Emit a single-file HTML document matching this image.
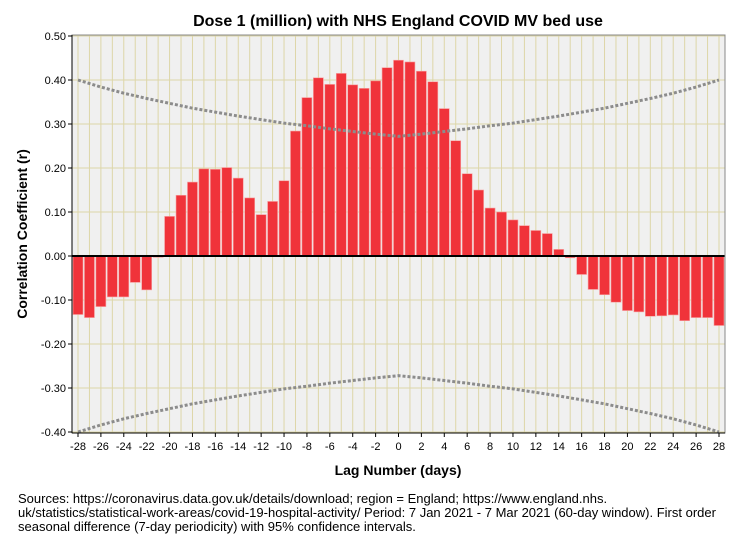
<!DOCTYPE html>
<html><head><meta charset="utf-8"><style>
body{margin:0;background:#fff;font-family:"Liberation Sans",sans-serif}
svg{display:block}
</style></head><body>
<svg id="chart" width="747" height="541" font-family="Liberation Sans, sans-serif">
<text x="398" y="26" text-anchor="middle" font-size="16" font-weight="bold">Dose 1 (million) with NHS England COVID MV bed use</text>
<rect x="72" y="35" width="653" height="398" fill="#f0f0f0"/>
<g id="grid"></g><g id="bars"></g><g id="ci"></g><g id="axes"></g>
<text x="398" y="475" text-anchor="middle" font-size="14" font-weight="bold">Lag Number (days)</text>
<text transform="translate(27,234) rotate(-90)" text-anchor="middle" font-size="14" font-weight="bold">Correlation Coefficient (r)</text>
<g font-size="13">
<text x="18" y="503">Sources: https://coronavirus.data.gov.uk/details/download; region = England; https://www.england.nhs.</text>
<text x="18" y="517">uk/statistics/statistical-work-areas/covid-19-hospital-activity/ Period: 7 Jan 2021 - 7 Mar 2021 (60-day window). First order</text>
<text x="18" y="531">seasonal difference (7-day periodicity) with 95% confidence intervals.</text>
</g>
</svg>
<script>
const lags=[];for(let k=-28;k<=28;k++)lags.push(k);
const values=[-0.133,-0.140,-0.115,-0.093,-0.093,-0.060,-0.077,-0.003,0.090,0.138,0.168,0.198,0.197,0.201,0.177,0.132,0.094,0.124,0.171,0.284,0.360,0.405,0.390,0.415,0.389,0.381,0.398,0.428,0.445,0.441,0.420,0.396,0.335,0.262,0.187,0.150,0.109,0.100,0.082,0.069,0.058,0.051,0.015,-0.004,-0.042,-0.076,-0.088,-0.105,-0.124,-0.127,-0.137,-0.136,-0.134,-0.147,-0.140,-0.140,-0.158];
const ciLags=[-28,-26,-24,-22,-20,-18,-16,-14,-12,-10,-8,-6,-4,-2,0,2,4,6,8,10,12,14,16,18,20,22,24,26,28];
const ciValues=[0.400,0.384,0.370,0.358,0.347,0.336,0.327,0.318,0.310,0.302,0.296,0.289,0.283,0.277,0.272,0.277,0.283,0.289,0.296,0.302,0.310,0.318,0.327,0.336,0.347,0.358,0.370,0.384,0.400];
const yTicks=[0.5,0.4,0.3,0.2,0.1,0,-0.1,-0.2,-0.3,-0.4];
const yTickLabels=["0.50","0.40","0.30","0.20","0.10","0.00","-0.10","-0.20","-0.30","-0.40"];
const xTicks=[-28,-26,-24,-22,-20,-18,-16,-14,-12,-10,-8,-6,-4,-2,0,2,4,6,8,10,12,14,16,18,20,22,24,26,28];
const NS="http://www.w3.org/2000/svg";
const X=k=>78+(k+28)*(719-78)/56;
const Y=v=>256-v*440;
function mk(p,t,a){const e=document.createElementNS(NS,t);for(const k in a)e.setAttribute(k,a[k]);document.getElementById(p).appendChild(e);return e;}
lags.forEach(k=>{const e=mk('grid','line',{x1:X(k),x2:X(k),y1:35,y2:433,stroke:'#ddd6a8','stroke-width':1});

});
yTicks.forEach(v=>{const e=mk('grid','line',{x1:72,x2:725,y1:Y(v),y2:Y(v),stroke:'#ddd6a8','stroke-width':1});

});
lags.forEach((k,i)=>{const v=values[i];const y0=Y(0),y1=Y(v);
const e=mk('bars','rect',{x:X(k)-5,y:Math.min(y0,y1),width:10,height:Math.max(1,Math.abs(y1-y0)),fill:'#f0333a',stroke:'#f7a0a0','stroke-width':0.6});

});
[1,-1].forEach(s=>{const e=mk('ci','polyline',{points:ciLags.map((k,i)=>X(k)+','+Y(s*ciValues[i])).join(' '),fill:'none',stroke:'#8c8c8c','stroke-width':3,'stroke-dasharray':'3,2'});

});
let e=mk('axes','line',{x1:72,x2:725,y1:Y(0),y2:Y(0),stroke:'#000','stroke-width':2});


e=mk('axes','rect',{x:72,y:35,width:653,height:398,fill:'none',stroke:'#888','stroke-width':1});


e=mk('axes','line',{x1:72,x2:72,y1:35,y2:433,stroke:'#000','stroke-width':1});


e=mk('axes','line',{x1:72,x2:725,y1:433,y2:433,stroke:'#000','stroke-width':1});


yTicks.forEach((v,i)=>{const t=mk('axes','text',{x:66,y:Y(v)+4,'text-anchor':'end','font-size':11});t.textContent=yTickLabels[i];


const l=mk('axes','line',{x1:68,x2:72,y1:Y(v),y2:Y(v),stroke:'#000'});

});
xTicks.forEach(k=>{const t=mk('axes','text',{x:X(k),y:450,'text-anchor':'middle','font-size':11});t.textContent=String(k);


const l=mk('axes','line',{x1:X(k),x2:X(k),y1:433,y2:437,stroke:'#000'});

});
</script>
</body></html>
